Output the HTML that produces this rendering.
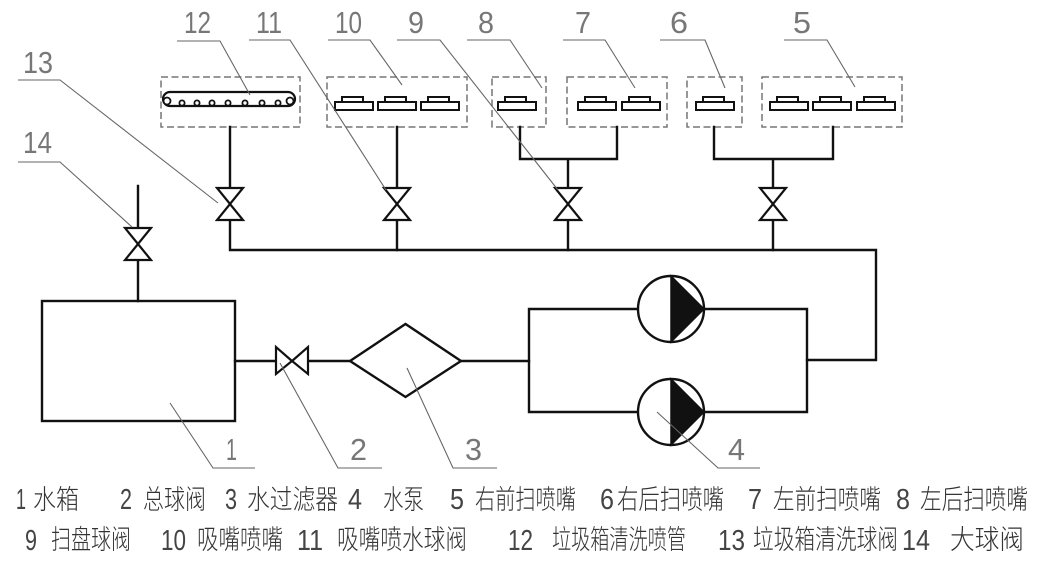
<!DOCTYPE html>
<html>
<head>
<meta charset="utf-8">
<style>
  html,body{margin:0;padding:0;background:#fff;}
  body{width:1048px;height:572px;overflow:hidden;}
  svg{display:block;}
  .ln{stroke:#111;stroke-width:2.4;fill:none;stroke-linecap:square;}
  .vl{stroke:#111;stroke-width:2.2;fill:#fff;stroke-linejoin:miter;}
  .nz{stroke:#111;stroke-width:2;fill:#fff;}
  .db{stroke:#777;stroke-width:1.5;fill:none;stroke-dasharray:7 3.5;}
  .ld{stroke:#666;stroke-width:1.1;fill:none;}
  .lbl{font-family:"Liberation Sans",sans-serif;font-size:31px;fill:#777;font-weight:normal;}
  .dg{font-family:"Liberation Sans",sans-serif;font-size:29px;fill:#444;}
  .cj{font-family:"Liberation Sans","Noto Sans CJK SC",sans-serif;font-size:27px;fill:#333;font-weight:300;}
</style>
</head>
<body>
<svg width="1048" height="572" viewBox="0 0 1048 572" xmlns="http://www.w3.org/2000/svg">
  <rect x="0" y="0" width="1048" height="572" fill="#fff"/>

  <!-- dashed boxes -->
  <rect class="db" x="161" y="77" width="139" height="50"/>
  <rect class="db" x="327" y="77" width="140" height="50"/>
  <rect class="db" x="492" y="77" width="54" height="50"/>
  <rect class="db" x="567" y="77" width="100" height="50"/>
  <rect class="db" x="687" y="77" width="55" height="50"/>
  <rect class="db" x="762" y="77" width="140" height="50"/>

  <!-- pipe 12 -->
  <path class="ln" style="stroke-width:2.2" d="M170,92 H288 A7,7 0 0 1 288,106 H170 A7,7 0 0 1 170,92 Z"/>
  <g fill="#fff" stroke="#111" stroke-width="1.8">
    <circle cx="167" cy="101" r="3.5"/>
    <circle cx="290" cy="101" r="3.5"/>
    <circle cx="182" cy="103" r="2.6"/>
    <circle cx="197" cy="103" r="2.6"/>
    <circle cx="212" cy="103" r="2.6"/>
    <circle cx="228" cy="103" r="2.6"/>
    <circle cx="245" cy="103" r="2.6"/>
    <circle cx="262" cy="103" r="2.6"/>
    <circle cx="278" cy="103" r="2.6"/>
  </g>

  <!-- nozzles -->
  <g class="nz">
    <rect x="342" y="97" width="21" height="5"/><rect x="335" y="102" width="38" height="8"/>
    <rect x="385" y="97" width="21" height="5"/><rect x="378" y="102" width="38" height="8"/>
    <rect x="428" y="97" width="21" height="5"/><rect x="421" y="102" width="38" height="8"/>
    <rect x="505" y="97" width="21" height="5"/><rect x="498" y="102" width="38" height="8"/>
    <rect x="585" y="97" width="21" height="5"/><rect x="578" y="102" width="38" height="8"/>
    <rect x="629" y="97" width="21" height="5"/><rect x="622" y="102" width="38" height="8"/>
    <rect x="703" y="97" width="21" height="5"/><rect x="696" y="102" width="38" height="8"/>
    <rect x="777" y="97" width="21" height="5"/><rect x="770" y="102" width="38" height="8"/>
    <rect x="820" y="97" width="21" height="5"/><rect x="813" y="102" width="38" height="8"/>
    <rect x="864" y="97" width="21" height="5"/><rect x="857" y="102" width="38" height="8"/>
  </g>

  <!-- pipes -->
  <path class="ln" d="M230,127 V188 M230,220 V250 H876 V360 H807"/>
  <path class="ln" d="M397,127 V188 M397,220 V250"/>
  <path class="ln" d="M520,127 V159 H617 V127 M568,159 V188 M568,220 V250"/>
  <path class="ln" d="M714,127 V159 H833 V127 M773,159 V188 M773,220 V250"/>
  <path class="ln" d="M138,186 V228 M138,260 V301"/>
  <rect class="ln" x="42" y="301" width="193" height="120"/>
  <path class="ln" d="M235,361 H276 M308,361 H350 M461,361 H529"/>
  <polygon class="ln" points="350,361 405.5,324 461,361 405.5,397"/>
  <path class="ln" d="M529,309 V412 M529,309 H638 M704,309 H807 V412 M529,412 H638 M704,412 H807"/>

  <!-- valves -->
  <g class="vl">
    <polygon points="217,188 243,188 230,204"/><polygon points="217,220 243,220 230,204"/>
    <polygon points="384,188 410,188 397,204"/><polygon points="384,220 410,220 397,204"/>
    <polygon points="555,188 581,188 568,204"/><polygon points="555,220 581,220 568,204"/>
    <polygon points="760,188 786,188 773,204"/><polygon points="760,220 786,220 773,204"/>
    <polygon points="125,228 151,228 138,244"/><polygon points="125,260 151,260 138,244"/>
    <polygon points="276,347 276,374 292,361"/><polygon points="308,347 308,374 292,361"/>
  </g>

  <!-- pumps -->
  <g>
    <circle cx="671" cy="309" r="33" fill="#fff" stroke="#111" stroke-width="2.4"/>
    <polygon points="671,276 704,309 671,342" fill="#111" stroke="#111" stroke-width="1.5"/>
    <circle cx="671" cy="412" r="33" fill="#fff" stroke="#111" stroke-width="2.4"/>
    <polygon points="671,379 704,412 671,445" fill="#111" stroke="#111" stroke-width="1.5"/>
  </g>

  <!-- leader lines -->
  <g class="ld">
    <polyline points="177,41 220,41 250,95"/>
    <polyline points="249,40 290,40 386,190"/>
    <polyline points="328,40 370,40 402,85"/>
    <polyline points="397,40 440,40 558,190"/>
    <polyline points="467,40 510,40 542,88"/>
    <polyline points="563,40 605,40 635,88"/>
    <polyline points="660,40 705,40 725,88"/>
    <polyline points="784,40 827,40 855,87"/>
    <polyline points="18,80 60,80 218,203"/>
    <polyline points="18,162 60,162 132,227"/>
    <polyline points="170,403 213,468 255,468"/>
    <polyline points="280,363 338,468 382,468"/>
    <polyline points="407,368 453,468 497,468"/>
    <polyline points="657,412 718,468 760,468"/>
  </g>

  <!-- callout numbers -->
  <g class="lbl">
    <text x="184" y="33" textLength="27" lengthAdjust="spacingAndGlyphs">12</text>
    <text x="256" y="33" textLength="26" lengthAdjust="spacingAndGlyphs">11</text>
    <text x="335" y="33" textLength="27" lengthAdjust="spacingAndGlyphs">10</text>
    <text x="408" y="33" textLength="16" lengthAdjust="spacingAndGlyphs">9</text>
    <text x="478" y="33" textLength="16" lengthAdjust="spacingAndGlyphs">8</text>
    <text x="575" y="33" textLength="16" lengthAdjust="spacingAndGlyphs">7</text>
    <text x="670" y="33" textLength="18" lengthAdjust="spacingAndGlyphs">6</text>
    <text x="793" y="33" textLength="18" lengthAdjust="spacingAndGlyphs">5</text>
    <text x="23" y="73" textLength="30" lengthAdjust="spacingAndGlyphs">13</text>
    <text x="23" y="153" textLength="29" lengthAdjust="spacingAndGlyphs">14</text>
    <text x="226" y="460" textLength="11" lengthAdjust="spacingAndGlyphs">1</text>
    <text x="350" y="460" textLength="17" lengthAdjust="spacingAndGlyphs">2</text>
    <text x="465" y="460" textLength="17" lengthAdjust="spacingAndGlyphs">3</text>
    <text x="728" y="460" textLength="17" lengthAdjust="spacingAndGlyphs">4</text>
  </g>

  <!-- legend row 1 -->
  <g class="dg">
    <text x="16" y="509" textLength="10" lengthAdjust="spacingAndGlyphs">1</text>
    <text x="120" y="509" textLength="12" lengthAdjust="spacingAndGlyphs">2</text>
    <text x="225" y="509" textLength="12" lengthAdjust="spacingAndGlyphs">3</text>
    <text x="348" y="509" textLength="14" lengthAdjust="spacingAndGlyphs">4</text>
    <text x="450" y="509" textLength="14" lengthAdjust="spacingAndGlyphs">5</text>
    <text x="600" y="509" textLength="14" lengthAdjust="spacingAndGlyphs">6</text>
    <text x="748" y="509" textLength="14" lengthAdjust="spacingAndGlyphs">7</text>
    <text x="896" y="509" textLength="14" lengthAdjust="spacingAndGlyphs">8</text>
  </g>
  <g class="cj">
    <text x="33" y="509" textLength="46" lengthAdjust="spacingAndGlyphs">水箱</text>
    <text x="143" y="509" textLength="63" lengthAdjust="spacingAndGlyphs">总球阀</text>
    <text x="247" y="509" textLength="91" lengthAdjust="spacingAndGlyphs">水过滤器</text>
    <text x="383" y="509" textLength="41" lengthAdjust="spacingAndGlyphs">水泵</text>
    <text x="475" y="509" textLength="101" lengthAdjust="spacingAndGlyphs">右前扫喷嘴</text>
    <text x="617" y="509" textLength="107" lengthAdjust="spacingAndGlyphs">右后扫喷嘴</text>
    <text x="773" y="509" textLength="108" lengthAdjust="spacingAndGlyphs">左前扫喷嘴</text>
    <text x="920" y="509" textLength="108" lengthAdjust="spacingAndGlyphs">左后扫喷嘴</text>
  </g>

  <!-- legend row 2 -->
  <g class="dg">
    <text x="25" y="550" textLength="12" lengthAdjust="spacingAndGlyphs">9</text>
    <text x="161" y="550" textLength="25" lengthAdjust="spacingAndGlyphs">10</text>
    <text x="297" y="550" textLength="26" lengthAdjust="spacingAndGlyphs">11</text>
    <text x="508" y="550" textLength="25" lengthAdjust="spacingAndGlyphs">12</text>
    <text x="718" y="550" textLength="27" lengthAdjust="spacingAndGlyphs">13</text>
    <text x="902" y="550" textLength="28" lengthAdjust="spacingAndGlyphs">14</text>
  </g>
  <g class="cj">
    <text x="51" y="549" textLength="80" lengthAdjust="spacingAndGlyphs">扫盘球阀</text>
    <text x="197" y="549" textLength="86" lengthAdjust="spacingAndGlyphs">吸嘴喷嘴</text>
    <text x="337" y="549" textLength="130" lengthAdjust="spacingAndGlyphs">吸嘴喷水球阀</text>
    <text x="552" y="549" textLength="134" lengthAdjust="spacingAndGlyphs">垃圾箱清洗喷管</text>
    <text x="753" y="549" textLength="145" lengthAdjust="spacingAndGlyphs">垃圾箱清洗球阀</text>
    <text x="950" y="549" textLength="74" lengthAdjust="spacingAndGlyphs">大球阀</text>
  </g>
</svg>
</body>
</html>
